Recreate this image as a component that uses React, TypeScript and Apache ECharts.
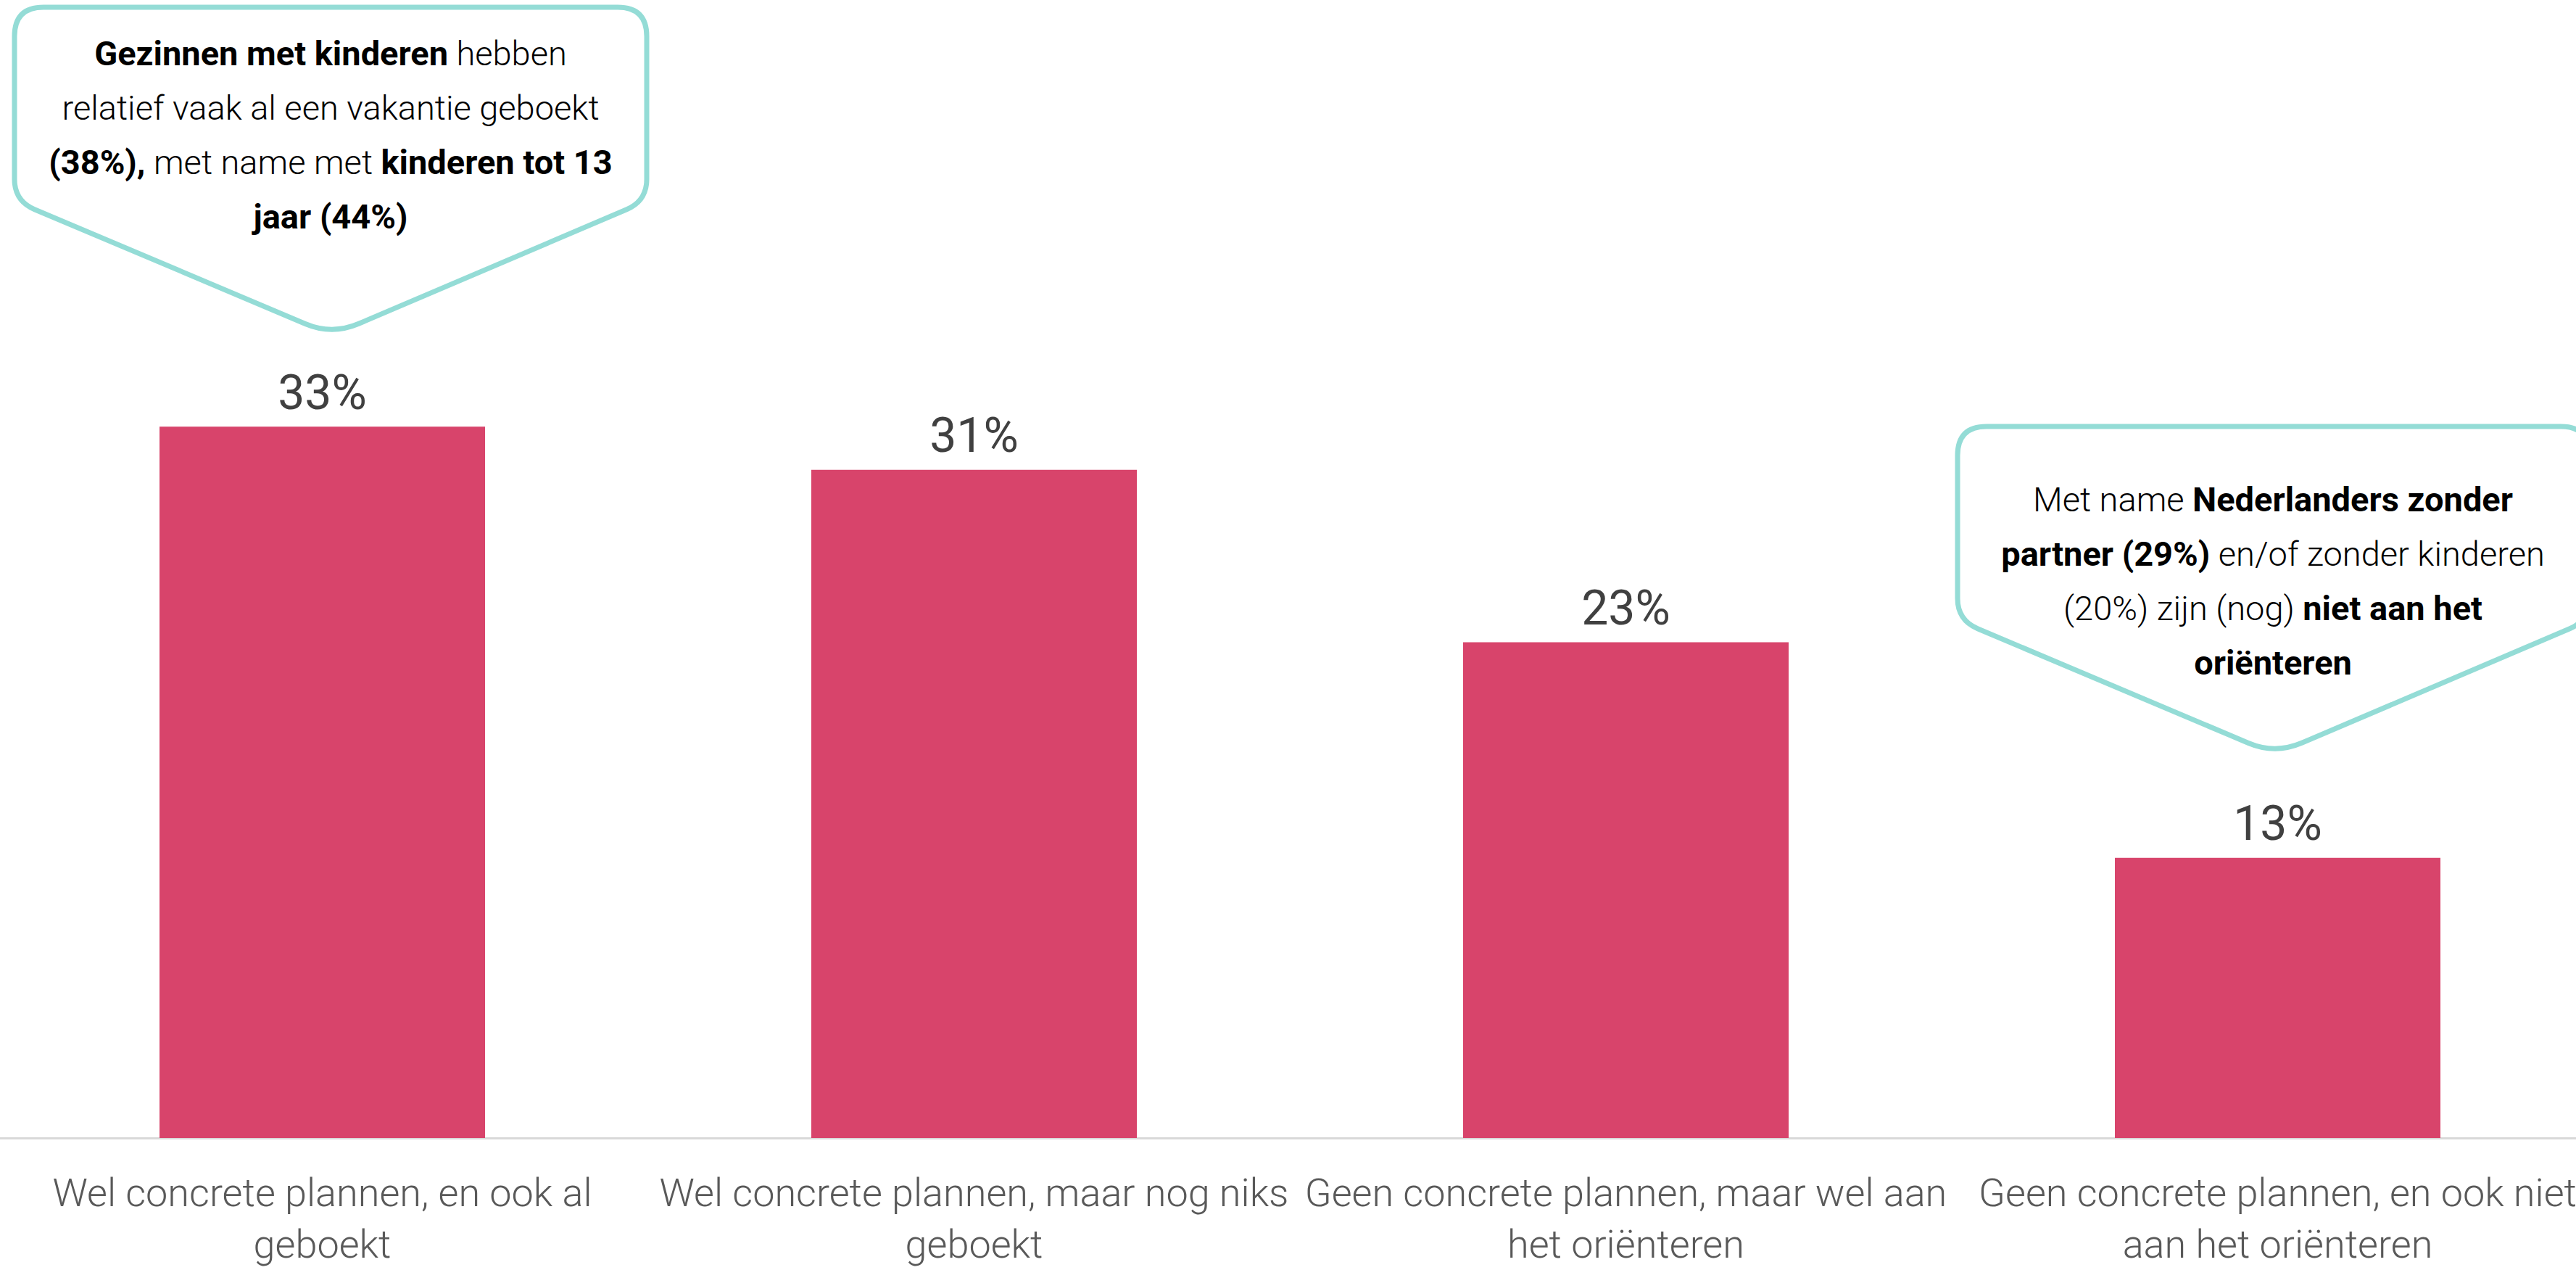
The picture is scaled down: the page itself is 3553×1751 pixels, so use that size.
import React, { useEffect, useRef } from "react";
import * as echarts from "echarts";

const categories = [
  "Wel concrete plannen, en ook al\ngeboekt",
  "Wel concrete plannen, maar nog niks\ngeboekt",
  "Geen concrete plannen, maar wel aan\nhet oriënteren",
  "Geen concrete plannen, en ook niet\naan het oriënteren",
];
const values = [33, 31, 23, 13];

const callout1Lines = [
  "{b|Gezinnen met kinderen} hebben",
  "relatief vaak al een vakantie geboekt",
  "{b|(38%),} met name met {b|kinderen tot 13}",
  "{b|jaar (44%)}",
];
const callout2Lines = [
  "Met name {b|Nederlanders zonder}",
  "{b|partner (29%)} en/of zonder kinderen",
  "(20%) zijn (nog) {b|niet aan het}",
  "{b|oriënteren}",
];

// chart div is shifted 5px left of the page edge
const OFFSET = 5;

function buildCalloutPath(): string {
  const W = 872;
  const Hs = 267;
  const tx = 438;
  const ty = 452;
  const r = 40;
  const c = 30;
  const t = 40;
  const dRx = tx - W, dRy = ty - Hs;
  const lR = Math.hypot(dRx, dRy);
  const uRx = dRx / lR, uRy = dRy / lR;
  const dLx = tx - 0, dLy = ty - Hs;
  const lL = Math.hypot(dLx, dLy);
  const uLx = dLx / lL, uLy = dLy / lL;
  const p = [
    `M 0 ${r}`,
    `Q 0 0 ${r} 0`,
    `L ${W - r} 0`,
    `Q ${W} 0 ${W} ${r}`,
    `L ${W} ${Hs - c}`,
    `Q ${W} ${Hs} ${W + uRx * c} ${Hs + uRy * c}`,
    `L ${tx - uRx * t} ${ty - uRy * t}`,
    `Q ${tx} ${ty} ${tx - uLx * t} ${ty - uLy * t}`,
    `L ${uLx * c} ${Hs + uLy * c}`,
    `Q 0 ${Hs} 0 ${Hs - c}`,
    `Z`,
  ];
  return p.join(" ");
}

let registered = false;
function ensureShape() {
  if (registered) return;
  const Cls = (echarts as any).graphic.extendPath(buildCalloutPath(), {});
  (echarts as any).graphic.registerShape("callout", Cls);
  registered = true;
}

export default function App() {
  const ref = useRef<HTMLDivElement>(null);
  useEffect(() => {
    if (!ref.current) return;
    ensureShape();
    const chart = echarts.init(ref.current, null, { renderer: "svg" });
    const calloutStyle = { fill: "#ffffff", stroke: "#94dcd6", lineWidth: 7 };
    const richStyle = {
      b: {
        fontFamily: "Roboto",
        fontWeight: "bold",
        fontSize: 47,
        lineHeight: 75,
        fill: "#000000",
      },
    };
    const textBase = {
      fontFamily: "Roboto",
      fontWeight: 300,
      fontSize: 47,
      lineHeight: 75,
      fill: "#000000",
      textAlign: "center",
      textVerticalAlign: "top",
      rich: richStyle,
    };
    chart.setOption({
      animation: false,
      backgroundColor: "#ffffff",
      grid: { left: 0, right: 0, top: 83, bottom: 173, containLabel: false },
      xAxis: {
        type: "category",
        data: categories,
        axisLine: { show: true, lineStyle: { color: "#d9d9d9", width: 3 } },
        axisTick: { show: false },
        axisLabel: {
          color: "#595959",
          fontFamily: "Roboto",
          fontWeight: 300,
          fontSize: 54,
          lineHeight: 71,
          margin: 40,
          interval: 0,
        },
      },
      yAxis: {
        type: "value",
        min: 0,
        max: 50,
        show: false,
        splitLine: { show: false },
      },
      series: [
        {
          type: "bar",
          data: values,
          barWidth: 449,
          itemStyle: { color: "#d8446b" },
          label: {
            show: true,
            position: "top",
            distance: 14,
            formatter: "{c}%",
            color: "#404040",
            fontFamily: "Roboto",
            fontSize: 66,
          },
        },
      ],
      graphic: [
        { type: "callout", x: 20 + OFFSET, y: 10, style: calloutStyle, z: 10 },
        {
          type: "text",
          x: 456 + OFFSET,
          y: 36,
          z: 11,
          style: { ...textBase, text: callout1Lines.join("\n") },
        },
        { type: "callout", x: 2700 + OFFSET, y: 588, style: calloutStyle, z: 10 },
        {
          type: "text",
          x: 3135 + OFFSET,
          y: 651,
          z: 11,
          style: { ...textBase, text: callout2Lines.join("\n") },
        },
      ],
    });
    return () => chart.dispose();
  }, []);
  return (
    <div
      ref={ref}
      style={{ position: "fixed", left: -OFFSET, top: 0, width: 3596, height: 1751 }}
    />
  );
}
